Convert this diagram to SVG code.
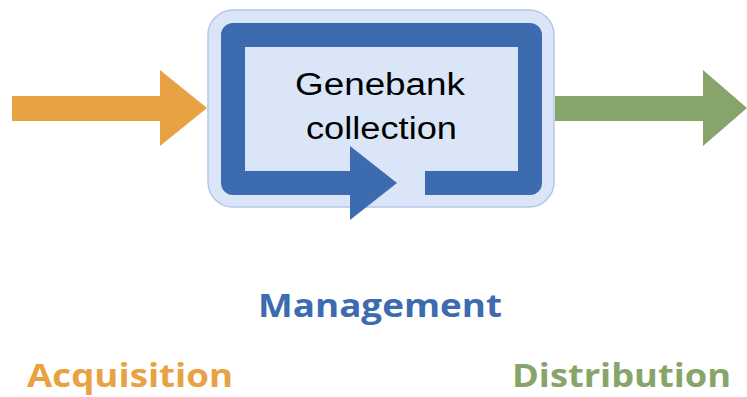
<svg xmlns="http://www.w3.org/2000/svg" width="747" height="397" viewBox="0 0 747 397">
  <style>
    .label { font-family: "Open Sans", "Liberation Sans", sans-serif; font-weight: 700; font-size: 33px; text-anchor: middle; }
    .box-text { font-family: "Liberation Sans", Arial, sans-serif; font-size: 31px; fill: #000; text-anchor: middle; }
  </style>
  <rect width="747" height="397" fill="#ffffff"/>

  <g id="connectors">
    <!-- incoming: acquisition -->
    <polygon id="arrow-in" fill="#E8A243" points="12,96 160,96 160,70 207,108 160,146 160,121 12,121"/>
    <!-- outgoing: distribution -->
    <polygon id="arrow-out" fill="#87A56A" points="555,96 703,96 703,70 747,108 703,146 703,121 555,121"/>
  </g>

  <g id="genebank">
    <rect x="208" y="10" width="346" height="197" rx="25" ry="25" fill="#DAE6F8" stroke="#B4C6EC" stroke-width="1.5"/>
    <!-- management cycle loop -->
    <path d="M425,183 H530 V35 H233 V183 H352" fill="none" stroke="#3D6BB0" stroke-width="24" stroke-linejoin="round"/>
    <polygon points="350,146 397,183 350,220" fill="#3D6BB0"/>
    <text class="box-text" x="380" y="95" textLength="170" lengthAdjust="spacingAndGlyphs">Genebank</text>
    <text class="box-text" x="381.5" y="139" textLength="151" lengthAdjust="spacingAndGlyphs">collection</text>
  </g>

  <g id="management">
    <text class="label" x="380" y="317" fill="#3D6BB0" textLength="244" lengthAdjust="spacingAndGlyphs">Management</text>
  </g>
  <g id="acquisition">
    <text class="label" x="130" y="387" fill="#E8A243" textLength="206" lengthAdjust="spacingAndGlyphs">Acquisition</text>
  </g>
  <g id="distribution">
    <text class="label" x="621.5" y="387" fill="#87A56A" textLength="219" lengthAdjust="spacingAndGlyphs">Distribution</text>
  </g>
</svg>
